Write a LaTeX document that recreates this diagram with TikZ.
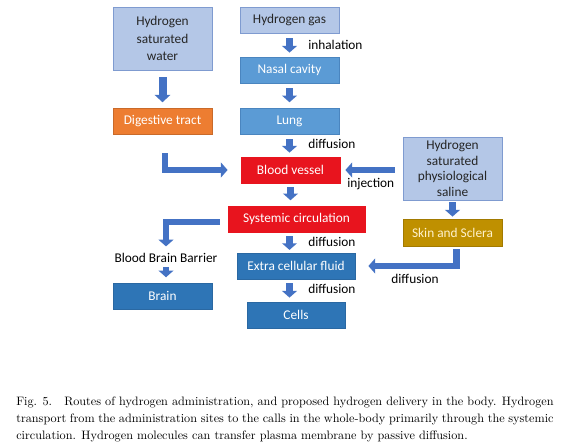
\documentclass[tikz,border=0pt]{standalone}
\usepackage{fontspec}
\usepackage{graphicx}
\newfontfamily\calib{Carlito}
\usetikzlibrary{arrows.meta}
\definecolor{lblue}{HTML}{B4C7E7}
\definecolor{lbluedk}{HTML}{7F9BD0}
\definecolor{mblue}{HTML}{5B9BD5}
\definecolor{mbluedk}{HTML}{4A85BF}
\definecolor{dblue}{HTML}{2E75B6}
\definecolor{dbluedk}{HTML}{2A68A2}
\definecolor{orng}{HTML}{ED7D31}
\definecolor{rred}{HTML}{E8141E}
\definecolor{gold}{HTML}{BF9000}
\definecolor{goldtxt}{HTML}{FFF2CC}
\definecolor{arrblue}{HTML}{4472C4}
\begin{document}
\begin{tikzpicture}[x=0.75pt,y=-0.75pt,
  box/.style={inner sep=1pt, align=center, font=\calib\fontsize{10}{13}\selectfont, line width=0.6pt,
    minimum width=74.25pt, minimum height=19.5pt},
  lightbox/.style={box, fill=lblue, draw=lbluedk, text=black!85},
  midbox/.style={box, fill=mblue, draw=mbluedk, text=white},
  darkbox/.style={box, fill=dblue, draw=dbluedk, text=white},
  redbox/.style={box, fill=rred, draw=rred, text=white},
  orangebox/.style={box, fill=orng, draw=orng!85!black, text=white},
  goldbox/.style={box, fill=gold, draw=gold!85!black, text=goldtxt},
  lbl/.style={inner sep=0pt, font=\calib\fontsize{10}{12}\selectfont, text=black},
  flow/.style={draw=arrblue, line width=5pt, -{Triangle[width=11pt,length=5pt]}},
  bigflow/.style={draw=arrblue, line width=6pt, -{Triangle[width=11.5pt,length=5.5pt]}}
]
\useasboundingbox (0,0) rectangle (563,448);
\fill[white] (0,0) rectangle (563,448);

% nodes
\node[lightbox, minimum height=47.25pt] (hsw) at (162.5,38.5) {Hydrogen\\saturated\\water};
\node[lightbox] (hgas) at (289.5,20) {Hydrogen gas};
\node[midbox] (nasal) at (289.5,70) {Nasal cavity};
\node[midbox] (lung) at (289.5,121) {Lung};
\node[orangebox] (digest) at (162.5,121) {Digestive tract};
\node[redbox] (bv) at (290.5,170) {Blood vessel};
\node[redbox, minimum width=102.75pt] (sys) at (296.5,219) {Systemic circulation};
\node[darkbox, minimum width=88.5pt] (ecf) at (296,266) {Extra cellular fluid};
\node[darkbox, minimum width=73.5pt] (cells) at (296,315) {Cells};
\node[darkbox] (brain) at (162.5,296) {Brain};
\node[lightbox, minimum height=47.25pt, inner sep=0pt, font=\calib\fontsize{10}{11.8}\selectfont] (hsps) at (452.5,168.5) {Hydrogen\\saturated\\physiological\\saline};
\node[goldbox, minimum height=20.25pt] (skin) at (452.5,232.5) {Skin and Sclera};
\node[lbl] (bbb) at (166,258) {Blood Brain Barrier};

% labels
\node[lbl, anchor=west] (linh) at (308,45) {inhalation};
\node[lbl, anchor=west] (ldif1) at (308,144) {diffusion};
\node[lbl, anchor=west] (ldif2) at (308,242) {diffusion};
\node[lbl, anchor=west] (ldif3) at (308,289) {diffusion};
\node[lbl, anchor=west] (linj) at (347,184) {injection};
\node[lbl] (ldif4) at (415,279) {diffusion};

% arrows
\draw[bigflow, shorten <=5.25pt, shorten >=4pt] (hsw.south) -- (digest.north);
\draw[flow, shorten <=3.75pt, shorten >=3pt] (hgas.south) -- (nasal.north);
\draw[flow, shorten <=3.75pt, shorten >=4pt] (nasal.south) -- (lung.north);
\draw[flow, shorten <=3.75pt, shorten >=3pt] (lung.south) -- (lung.south |- bv.north);
\draw[flow, shorten <=3pt, shorten >=4pt] (bv.south) -- (bv.south |- sys.north);
\draw[flow, shorten <=3pt, shorten >=2pt] (sys.south -| lung.south) -- (ecf.north -| lung.south);
\draw[flow, shorten <=3pt, shorten >=3pt] (ecf.south -| lung.south) -- (cells.north -| lung.south);
\draw[flow, shorten <=3pt, shorten >=4pt] (bbb.south) -- (bbb.south |- brain.north);
\draw[flow, shorten <=1.5pt, shorten >=1.5pt] (hsps.south) -- (skin.north);
% L-shaped arrows
\draw[flow, shorten >=9.75pt] (digest.south) ++(2.5,19) |- (bv.west);
\draw[flow, shorten >=5pt] (sys.west) ++(-8,3) -| (bbb.north);
\draw[flow, shorten >=9.75pt] (skin.south) ++(4,3) |- (ecf.east);
\draw[flow, shorten >=3.75pt] (hsps.west |- bv.east) ++(-8,0) -- (bv.east);

% caption
\node[anchor=north west, inner sep=0pt] (cap) at (16,393) {\resizebox{403pt}{!}{\fontsize{10}{13.9}\selectfont
  \begin{tabular}{@{}l@{}}
  \makebox[440pt][s]{Fig. 5.\quad Routes of hydrogen administration, and proposed hydrogen delivery in the body. Hydrogen}\\
  \makebox[440pt][s]{transport from the administration sites to the calls in the whole-body primarily through the systemic}\\
  circulation. Hydrogen molecules can transfer plasma membrane by passive diffusion.
  \end{tabular}}};
\end{tikzpicture}
\end{document}
